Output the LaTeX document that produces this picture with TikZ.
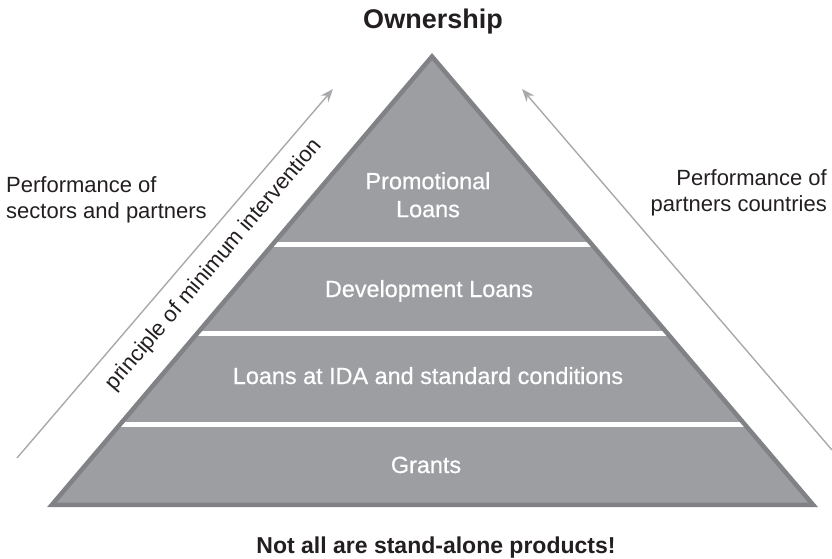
\documentclass[tikz,border=0pt]{standalone}
\usepackage{fontspec}
\setmainfont{Liberation Sans}
\newfontfamily\bandfont{Liberation Sans}[FakeBold=0.6]
\usepackage{xcolor}
\usetikzlibrary{calc,intersections,arrows.meta}
\definecolor{pyrfill}{HTML}{9C9EA2}
\definecolor{pyredge}{HTML}{808286}
\definecolor{trendgray}{HTML}{A7A9AC}
\definecolor{inkblack}{HTML}{231F20}

\begin{document}
\begin{tikzpicture}[x=1pt, y=1pt,
		band/.style={text=white, font=\bandfont\fontsize{23.4}{28}\selectfont, align=center, inner sep=0pt},
		side/.style={text=inkblack, font=\fontsize{22}{26}\selectfont, inner sep=0pt},
		sep/.style={white, line width=5pt},
		trend/.style={trendgray, line width=1.4pt, -{Stealth[length=13pt, width=10pt]}}]
		
		\useasboundingbox (0,0) rectangle (832,558);
		
		% 1. 金字塔的三个顶点
		\coordinate (Top) at (432,501.5);
		\coordinate (BL) at (51.9,53.2);
		\coordinate (BR) at (813.1,53.2);
		
		% 2. 底色
		\fill[pyrfill] (Top) -- (BL) -- (BR) -- cycle;
		
		% 3. 两条斜边与水平分隔线的交点
		\path[name path=edgeL] (Top) -- (BL);
		\path[name path=edgeR] (Top) -- (BR);
		\path[name path=cut1] (0,314) -- (832,314);
		\path[name path=cut2] (0,225) -- (832,225);
		\path[name path=cut3] (0,134) -- (832,134);
		\path[name intersections={of=edgeL and cut1, by=L1}];
		\path[name intersections={of=edgeR and cut1, by=R1}];
		\path[name intersections={of=edgeL and cut2, by=L2}];
		\path[name intersections={of=edgeR and cut2, by=R2}];
		\path[name intersections={of=edgeL and cut3, by=L3}];
		\path[name intersections={of=edgeR and cut3, by=R3}];
		
		\draw[sep] (L1) -- (R1);
		\draw[sep] (L2) -- (R2);
		\draw[sep] (L3) -- (R3);
		
		% 4. 深色边框
		\draw[pyredge, line width=4.5pt] (Top) -- (BL) -- (BR) -- cycle;
		
		% 5. 各层文字
		\node[band, anchor=north] (promo) at (428,386) {Promotional\\Loans};
		\node[band, anchor=base] (devel) at (429,261) {Development Loans};
		\node[band, anchor=base] (ida) at (428,174) {Loans at IDA and standard conditions};
		\node[band, anchor=base] (grants) at (426,85) {Grants};
		
		% 6. 标题与脚注
		\node[anchor=base, text=inkblack, font=\bfseries\fontsize{27}{32}\selectfont] (own) at (433,529) {Ownership};
		\node[anchor=base, text=inkblack, font=\bfseries\fontsize{23}{28}\selectfont] (note) at (436,5) {Not all are stand-alone products!};
		
		% 7. 两侧说明
		\node[side, align=left, anchor=north west] (perfL) at (6,382) {Performance of\\sectors and partners};
		\node[side, align=right, anchor=north east] (perfR) at (827,389) {Performance of\\partners countries};
		
		% 8. 两个灰色箭头
		\coordinate (tailL) at (17,100);
		\coordinate (headL) at (333,469);
		\coordinate (tailR) at (832,108);
		\coordinate (headR) at (522,469);
		\draw[trend] (tailL) -- (headL);
		\draw[trend] (tailR) -- (headR);
		
		% 沿左边斜写的文字
		\node[side, rotate=49.7] (pmi) at (214,293) {principle of minimum intervention};
		
	\end{tikzpicture}
\end{document}
